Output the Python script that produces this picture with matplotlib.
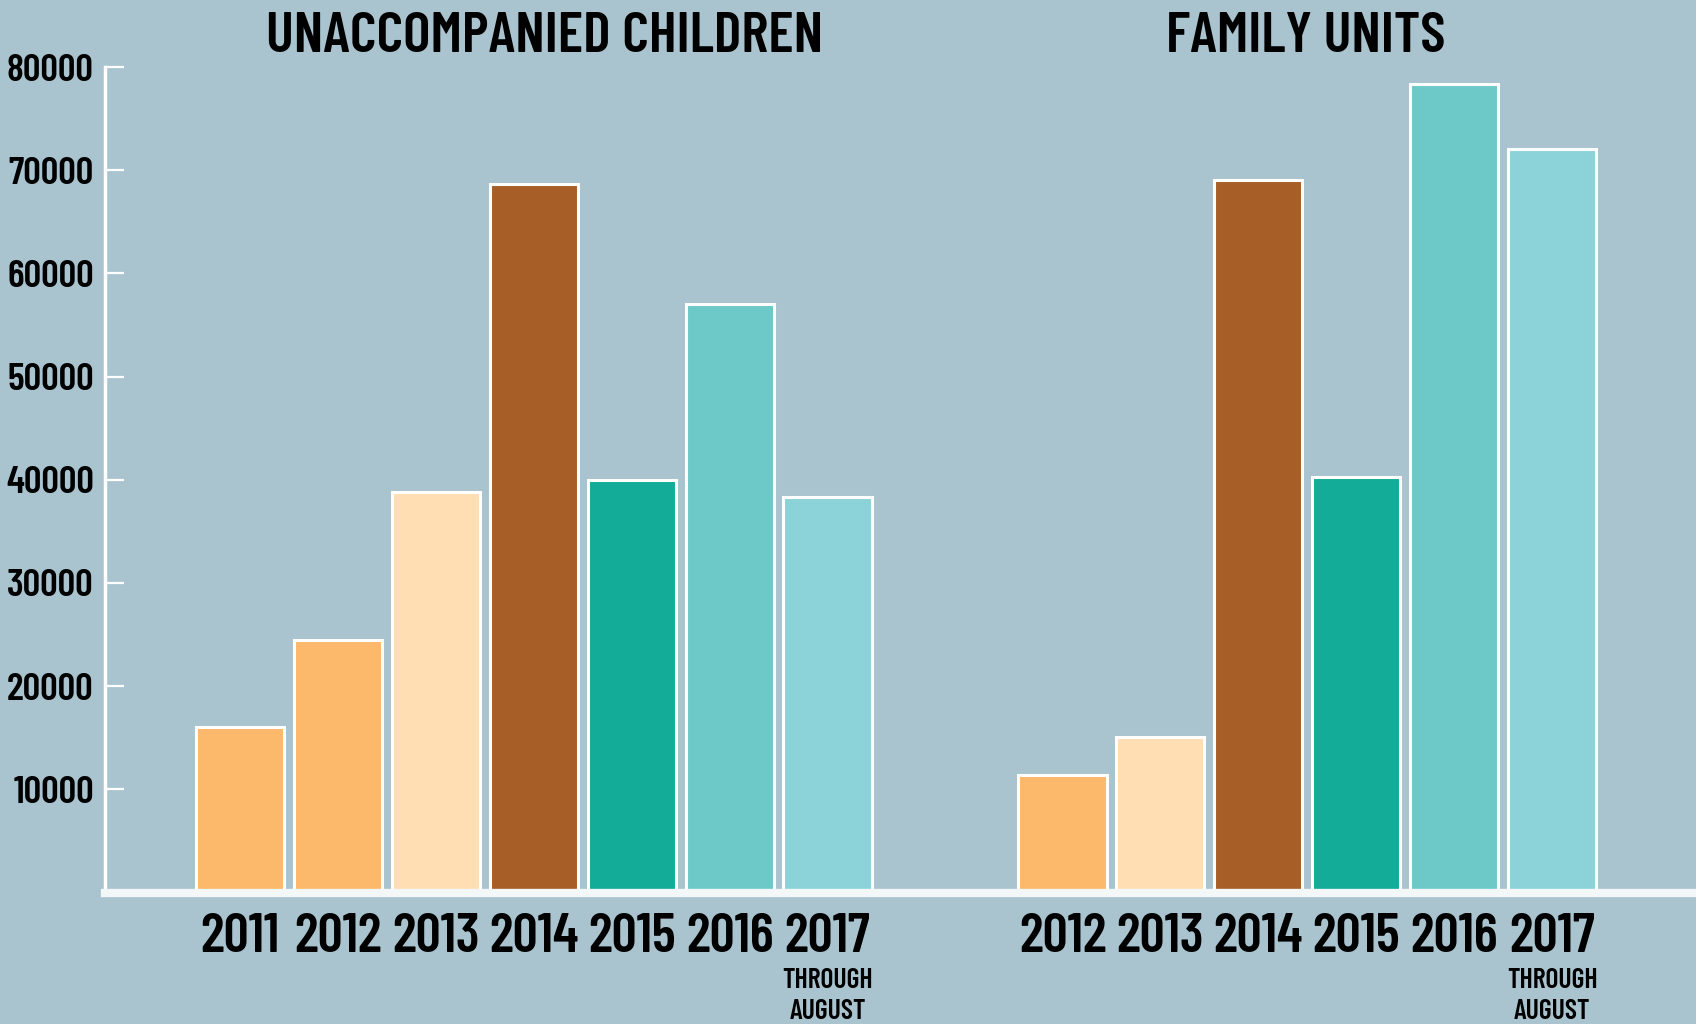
import matplotlib; matplotlib.use('Agg')
import matplotlib.pyplot as plt

BG = '#a9c4cf'
FONT = ['Barlow Condensed', 'Roboto Condensed', 'Oswald', 'DejaVu Sans']

# data
uac_years = ['2011', '2012', '2013', '2014', '2015', '2016', '2017']
uac_values = [16000, 24500, 38800, 68700, 40000, 57000, 38300]
fam_years = ['2012', '2013', '2014', '2015', '2016', '2017']
fam_values = [11400, 15100, 69100, 40300, 78400, 72100]

YEAR_COLORS = {
    '2011': '#fdb96b', '2012': '#fdb96b', '2013': '#ffdeb4',
    '2014': '#a85f27', '2015': '#13ac98', '2016': '#6dc9c8', '2017': '#8bd3d9',
}

uac_x = list(range(len(uac_years)))
fam_x = [8.4 + i for i in range(len(fam_years))]

fig = plt.figure(figsize=(16.96, 10.24), dpi=100)
fig.patch.set_facecolor(BG)
ax = fig.add_axes([0.0619, 0.1284, 0.9381, 0.8061])
ax.set_facecolor(BG)

for xs, years, vals in [(uac_x, uac_years, uac_values), (fam_x, fam_years, fam_values)]:
    ax.bar(xs, vals, width=0.9, color=[YEAR_COLORS[y] for y in years],
           edgecolor='white', linewidth=2.2, zorder=2)

ax.set_xlim(-1.38, 14.87)
ax.set_ylim(0, 80000)

for s in ['top', 'right']:
    ax.spines[s].set_visible(False)
ax.spines['left'].set_color('white')
ax.spines['left'].set_linewidth(2.5)
ax.spines['bottom'].set_color('#f4f7f8')
ax.spines['bottom'].set_linewidth(6)
ax.spines['bottom'].set_zorder(3)

ax.set_yticks(range(10000, 80001, 10000))
ax.set_yticklabels([str(v) for v in range(10000, 80001, 10000)],
                   fontfamily=FONT, fontweight='semibold', fontsize=28)
ax.tick_params(axis='y', direction='in', length=14, width=1.6, color='white', pad=8)

ax.set_xticks(uac_x + fam_x)
ax.set_xticklabels(uac_years + fam_years, fontfamily=FONT, fontweight='semibold', fontsize=40)
ax.tick_params(axis='x', length=0, pad=15)

for x in [uac_x[-1], fam_x[-1]]:
    ax.annotate('THROUGH\nAUGUST', xy=(x, 0), xycoords='data',
                xytext=(0, -54), textcoords='offset points',
                ha='center', va='top', fontsize=20, fontweight='semibold',
                fontfamily=FONT, linespacing=1.3, annotation_clip=False)

fig.text(0.3208, 0.964, 'UNACCOMPANIED CHILDREN', ha='center', va='center',
         fontsize=42, fontweight='semibold', fontfamily=FONT)
fig.text(0.7698, 0.964, 'FAMILY UNITS', ha='center', va='center',
         fontsize=42, fontweight='semibold', fontfamily=FONT)

fig.savefig('out.png', dpi=100, facecolor=BG)
